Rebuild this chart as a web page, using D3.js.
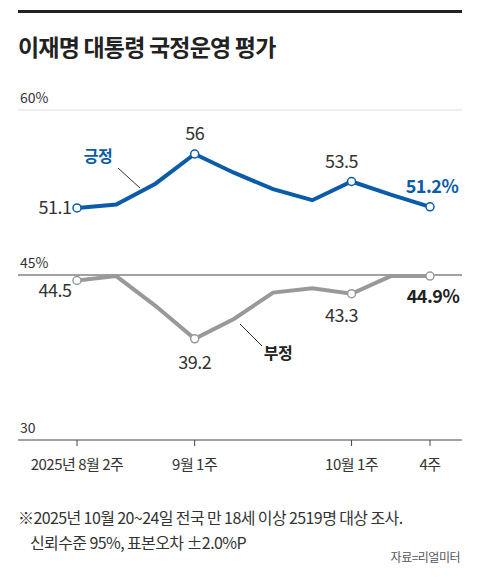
<!DOCTYPE html><html><head><meta charset="utf-8"><script src="https://cdn.jsdelivr.net/npm/d3@7"></script>
<style>body{margin:0;background:#fff}text{font-family:"Noto Sans CJK KR","Noto Sans",sans-serif}</style></head><body><svg id="c" width="480" height="587"></svg><script>
const weeks=[0,1,2,3,4,5,6,7,8,9];
const positive=[51.1,51.4,53.3,56,54.3,52.8,51.8,53.5,52.3,51.2];
const negative=[44.5,44.9,42.2,39.2,41,43.4,43.8,43.3,44.9,44.9];
const xLabels=[[0,"2025년 8월 2주"],[3,"9월 1주"],[7,"10월 1주"],[9,"4주"]];
const yTicks=[60,45,30];
const svg=d3.select("#c");
const x=d3.scaleLinear().domain([0,9]).range([77,430]);
const y=d3.scaleLinear().domain([30,60]).range([440,110]);
svg.append("rect").attr("x",18).attr("y",10).attr("width",444).attr("height",3).attr("fill","#222");
svg.append("text").attr("x",18).attr("y",56).attr("font-size",23).attr("font-weight",700).attr("fill","#222").attr("letter-spacing",-0.8).text("이재명 대통령 국정운영 평가");
yTicks.forEach(t=>{
 if(t>30) svg.append("line").attr("x1",18).attr("x2",462).attr("y1",y(t)).attr("y2",y(t)).attr("stroke",t==60?"#ddd":"#444").attr("stroke-width",1);
 svg.append("text").attr("x",20).attr("y",y(t)-7).attr("font-size",14).attr("fill","#333").text(t+(t==30?"":"%"));
});
svg.append("line").attr("x1",18).attr("x2",462).attr("y1",y(30)).attr("y2",y(30)).attr("stroke","#444");
xLabels.forEach(([i,l])=>{
 svg.append("line").attr("x1",x(i)).attr("x2",x(i)).attr("y1",y(30)).attr("y2",y(30)+6).attr("stroke","#444");
 svg.append("text").attr("x",x(i)).attr("y",y(30)+30).attr("text-anchor","middle").attr("font-size",15).attr("fill","#333").attr("letter-spacing",-0.5).text(l);
});
const line=d3.line().x((d,i)=>x(weeks[i])).y(d=>y(d));
function series(data,col){
 svg.append("path").datum(data).attr("d",line).attr("fill","none").attr("stroke",col).attr("stroke-width",4);
 [0,3,7,9].forEach(i=>svg.append("circle").attr("cx",x(i)).attr("cy",y(data[i])).attr("r",4).attr("fill","#fff").attr("stroke",col).attr("stroke-width",1.5));
}
series(positive,"#0a5ca8");series(negative,"#999");
const lab=(xx,yy,t,o={})=>svg.append("text").attr("x",xx).attr("y",yy).attr("text-anchor",o.a||"middle").attr("font-size",o.s||18).attr("font-weight",o.w||400).attr("fill",o.c||"#333").attr("letter-spacing",o.ls??-0.5).text(t);
lab(x(0)-22,y(positive[0])+6,"51.1");
lab(x(3),y(positive[3])-14,"56");
lab(x(7)-10,y(positive[7])-14,"53.5");
lab(x(9)+2,y(positive[9])-14,"51.2%",{c:"#0a5ca8",w:700});
lab(x(0)-22,y(negative[0])+16,"44.5");
lab(x(3),y(negative[3])+30,"39.2");
lab(x(7)-10,y(negative[7])+28,"43.3");
lab(x(9)+3,y(negative[9])+27,"44.9%",{c:"#222",w:700});
lab(98,162,"긍정",{c:"#0a5ca8",w:700,s:16});
svg.append("line").attr("x1",118).attr("y1",168).attr("x2",140).attr("y2",188).attr("stroke","#333");
lab(278,359,"부정",{c:"#222",w:700,s:16});
svg.append("line").attr("x1",240).attr("y1",324).attr("x2",262).attr("y2",346).attr("stroke","#333");
lab(18,524,"※2025년 10월 20~24일 전국 만 18세 이상 2519명 대상 조사.",{a:"start",s:16,ls:-0.6});
lab(30,549,"신뢰수준 95%, 표본오차 ±2.0%P",{a:"start",s:16,ls:-0.6});
lab(460,562,"자료=리얼미터",{a:"end",s:12,c:"#555"});
</script></body></html>
